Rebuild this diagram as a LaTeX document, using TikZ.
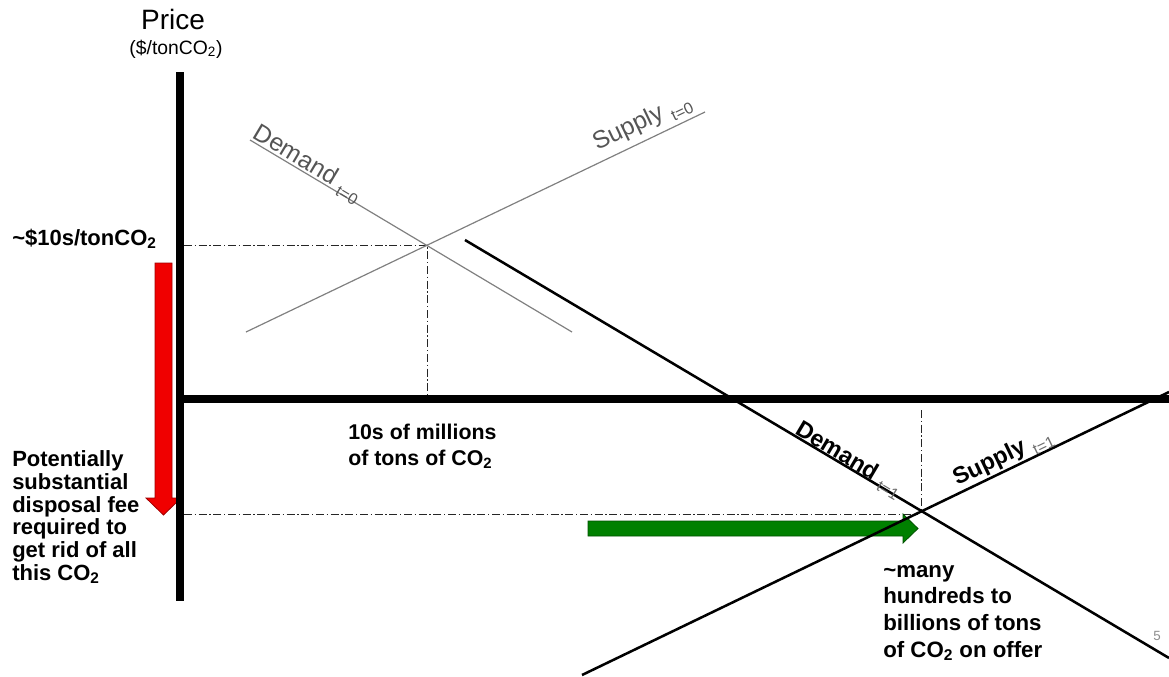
\documentclass[tikz,border=0pt]{standalone}
\usepackage{fontspec}
\setmainfont{Liberation Sans}
\definecolor{arrowgreen}{RGB}{0,128,0}
\definecolor{arrowgreenedge}{RGB}{0,80,0}
\definecolor{arrowred}{RGB}{240,0,0}
\definecolor{arrowrededge}{RGB}{160,0,0}
\definecolor{oldline}{RGB}{128,128,128}
\definecolor{oldtext}{RGB}{85,85,85}
\definecolor{subgray}{RGB}{110,110,110}
\newcommand{\lowsub}[1]{\raisebox{-5pt}{\fontsize{12}{12}\selectfont #1}}
\newcommand{\graysub}[1]{\raisebox{-5pt}{\fontsize{12}{12}\selectfont\mdseries\color{subgray}#1}}
\begin{document}
\begin{tikzpicture}[x=0.75pt,y=-0.75pt,
  axis/.style={line width=6pt, line cap=butt},
  oldcurve/.style={draw=oldline, line width=0.9pt},
  newcurve/.style={draw=black, line width=1.9pt},
  guide/.style={draw=black!85, line width=0.6pt, dash pattern=on 6pt off 2pt on 1pt off 2pt},
  lbl/.style={font=\fontsize{16.5}{17}\selectfont\bfseries, align=left, inner sep=0pt},
  oldlbl/.style={font=\fontsize{18.5}{18.5}\selectfont, text=oldtext, inner sep=0pt},
  newlbl/.style={font=\fontsize{17.5}{17.5}\selectfont\bfseries, text=black, inner sep=0pt},
]
\useasboundingbox (0,0) rectangle (1169,676);

% key points
\coordinate (yTop) at (180,72);
\coordinate (yBot) at (180,601);
\coordinate (xL) at (176,399);
\coordinate (xR) at (1169,399);
\coordinate (d0a) at (250,140);
\coordinate (d0b) at (572,332);
\coordinate (s0a) at (246,332);
\coordinate (s0b) at (705,112);
\coordinate (e0) at (427,245);
\coordinate (d1a) at (465,240);
\coordinate (d1b) at (1169,658);
\coordinate (s1a) at (582,675);
\coordinate (s1b) at (1169,392);
\coordinate (e1) at (921,512);
\coordinate (g0) at (184,245);
\coordinate (g0b) at (427,396);
\coordinate (g1) at (184,514);
\coordinate (g1e) at (918,514);
\coordinate (g1t) at (921,410);

% guides
\draw[guide] (g0) -- (e0) -- (g0b);
\draw[guide] (g1) -- (g1e);
\draw[guide] (g1t) -- (e1);

% red arrow
\draw[fill=arrowred, draw=arrowrededge, line width=0.6pt]
  (155,263) -- (172,263) -- (172,498) -- (181,498) -- (163.5,515) -- (146,498) -- (155,498) -- cycle;

% axes
\draw[axis] (yTop) -- (yBot);
\draw[axis] (xL) -- (xR);

% curves t=0
\draw[oldcurve] (d0a) -- (d0b);
\draw[oldcurve] (s0a) -- (s0b);

% green arrow
\draw[fill=arrowgreen, draw=arrowgreenedge, line width=0.6pt]
  (588,521) -- (903,521) -- (903,514) -- (918,528.5) -- (903,543) -- (903,536) -- (588,536) -- cycle;

% curves t=1
\draw[newcurve] (d1a) -- (d1b);
\draw[newcurve] (s1a) -- (s1b);

% curve labels
\node[oldlbl, rotate=-30.8, anchor=base west] (lblD0) at (251.5,137.4) {Demand \lowsub{t=0}};
\node[oldlbl, rotate=25.6, anchor=base west] (lblS0) at (597,151) {Supply \lowsub{t=0}};
\node[newlbl, rotate=-30.7, anchor=base west] (lblD1) at (793.8,433.5) {Demand \graysub{t=1}};
\node[newlbl, rotate=25.7, anchor=base west] (lblS1) at (957,486) {Supply \graysub{t=1}};

% axis titles
\node[anchor=base, inner sep=0pt, font=\fontsize{21}{21}\selectfont] (price) at (173,29) {Price};
\node[anchor=base, inner sep=0pt, font=\fontsize{14.5}{14.5}\selectfont] (unit) at (176,54) {(\$/tonCO\textsubscript{2})};

% annotations (base anchor = baseline of the last line)
\node[lbl, anchor=base west] (p10) at (12,245) {\textasciitilde\$10s/tonCO\textsubscript{2}};
\node[lbl, anchor=base west, font=\fontsize{16.5}{17}\selectfont\bfseries] (fee) at (12,580)
  {Potentially\\substantial\\disposal fee\\required to\\get rid of all\\this CO\textsubscript{2}};
\node[lbl, anchor=base west, font=\fontsize{16}{19.5}\selectfont\bfseries] (q0) at (348,465)
  {10s of millions\\of tons of CO\textsubscript{2}};
\node[lbl, anchor=base west, font=\fontsize{16.7}{20}\selectfont\bfseries] (q1) at (883,657)
  {\textasciitilde many\\hundreds to\\billions of tons\\of CO\textsubscript{2} on offer};

\node[anchor=base, inner sep=0pt, font=\fontsize{10}{10}\selectfont, text=black!45] (pg) at (1157,640) {5};
\end{tikzpicture}
\end{document}
